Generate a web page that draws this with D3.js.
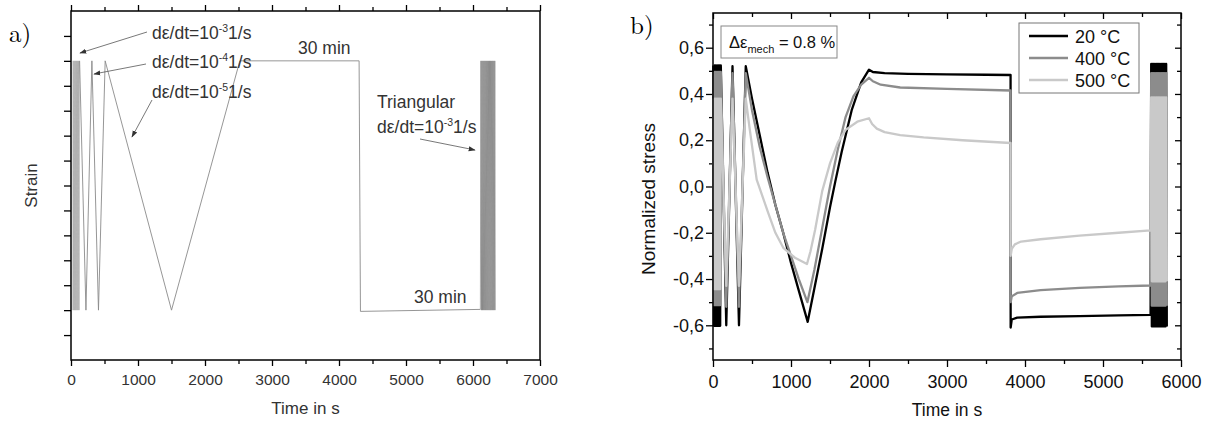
<!DOCTYPE html>
<html><head><meta charset="utf-8">
<script src="https://cdn.jsdelivr.net/npm/d3@7"></script>
<style>
body{margin:0;background:#fff}
svg{display:block}
</style>
</head><body>
<svg id="c" width="1213" height="423"></svg>
<script>
// ================= DATA =================
// Panel a: strain program
const aTickX = [0, 1000, 2000, 3000, 4000, 5000, 6000, 7000];
const aMinorX = [500, 1500, 2500, 3500, 4500, 5500, 6500];
const aTickY = [-0.6, -0.5, -0.4, -0.3, -0.2, -0.1, 0, 0.1, 0.2, 0.3, 0.4, 0.5, 0.6];
const aStrainLevels = [-0.5, 0.5];               // min / max strain
const aBlock1Time = [24, 32, 40, 48, 56, 64, 72, 80, 88, 96, 104, 112, 120, 128];
const aPathTime = [223, 312, 410, 510, 1500, 2520, 4300, 4320, 6110];
const aPathStrain = [-0.5, 0.5, -0.5, 0.5, -0.5, 0.5, 0.5, -0.505, -0.497];
const aBlock2Time = [6118, 6126, 6134, 6142, 6150, 6158, 6166, 6174, 6182, 6190, 6198, 6206, 6214, 6222,
                     6230, 6238, 6246, 6254, 6262, 6270, 6278, 6286, 6294, 6302, 6310, 6318, 6326, 6334];

// Panel b: normalized stress
const bTickX = [0, 1000, 2000, 3000, 4000, 5000, 6000];
const bMinorX = [500, 1500, 2500, 3500, 4500, 5500];
const bTickY = [-0.6, -0.4, -0.2, 0, 0.2, 0.4, 0.6];
const bMinorY = [-0.7, -0.5, -0.3, -0.1, 0.1, 0.3, 0.5, 0.7];
const temps = ["20 °C", "400 °C", "500 °C"];
const tempColors = ["#000000", "#8c8c8c", "#c9c9c9"];

const bBlock1Time = [4, 12, 20, 28, 36, 44, 52, 60, 68, 76, 84, 92, 100];
const bSpikeTime = [170, 250, 333, 420];
const bBlock2Time = [5618, 5626, 5634, 5642, 5650, 5658, 5666, 5674, 5682, 5690, 5698, 5706, 5714,
                     5722, 5730, 5738, 5746, 5754, 5762, 5770, 5778, 5786, 5794, 5802, 5810, 5818];
const block1Max = [0.523, 0.495, 0.38];
const block1Min = [-0.602, -0.513, -0.444];
const spikeMax = [0.52, 0.49, 0.38];
const spikeMin = [-0.60, -0.52, -0.43];
const block2Max = [0.53, 0.49, 0.385];
const block2Min = [-0.605, -0.515, -0.41];

const t20 = [500, 600, 700, 800, 900, 1000, 1100, 1214, 1300, 1400, 1500, 1567, 1650, 1778, 1900, 2000,
             2050, 2200, 2500, 3000, 3500, 3815, 3816, 3830, 3900, 4200, 4700, 5200, 5610];
const s20 = [0.38, 0.22, 0.06, -0.08, -0.2, -0.33, -0.45, -0.585, -0.44, -0.27, -0.09, 0.02, 0.15, 0.33, 0.45, 0.505,
             0.495, 0.49, 0.487, 0.485, 0.483, 0.482, -0.61, -0.575, -0.567, -0.563, -0.56, -0.557, -0.555];
const t400 = [500, 600, 700, 800, 900, 1000, 1100, 1210, 1300, 1400, 1500, 1600, 1700, 1800, 1900, 2000,
              2050, 2150, 2400, 3000, 3815, 3816, 3830, 3900, 4200, 4700, 5200, 5610];
const s400 = [0.33, 0.17, 0.04, -0.08, -0.2, -0.3, -0.4, -0.5, -0.36, -0.18, 0.0, 0.16, 0.3, 0.39, 0.44, 0.47,
              0.455, 0.44, 0.428, 0.422, 0.415, -0.50, -0.475, -0.46, -0.448, -0.438, -0.432, -0.428];
const t500 = [470, 560, 709, 800, 901, 1051, 1205, 1250, 1310, 1400, 1500, 1600, 1700, 1850, 2000,
              2040, 2100, 2200, 2400, 2700, 3200, 3815, 3816, 3830, 3870, 3950, 4200, 4700, 5200, 5610];
const s500 = [0.25, 0.03, -0.115, -0.2, -0.265, -0.308, -0.335, -0.28, -0.186, -0.02, 0.1, 0.19, 0.245, 0.28, 0.295,
              0.27, 0.25, 0.235, 0.222, 0.212, 0.2, 0.188, -0.30, -0.27, -0.25, -0.238, -0.228, -0.212, -0.2, -0.19];
const seriesT = [t20, t400, t500];
const seriesS = [s20, s400, s500];

// ================= DRAW =================
const SANS = "'Liberation Sans', Arial, Helvetica, sans-serif";
const SERIF = "'Latin Modern Roman','DejaVu Serif','Liberation Serif', serif";
const svg = d3.select("#c");
const defs = svg.append("defs");
defs.append("marker").attr("id", "arr").attr("viewBox", "0 0 10 10").attr("refX", 9).attr("refY", 5)
  .attr("markerWidth", 7).attr("markerHeight", 7).attr("orient", "auto-start-reverse")
  .attr("markerUnits", "userSpaceOnUse")
  .append("path").attr("d", "M0,1.5 L10,5 L0,8.5 z").attr("fill", "#333");

function styleAxis(g, size, color) {
  g.select(".domain").remove();
  g.selectAll("line").attr("stroke", "#000").attr("stroke-width", 1.3);
  g.selectAll("text").attr("font-family", SANS).attr("font-size", size).attr("fill", color);
}

// ---------- Panel a ----------
const xa = d3.scaleLinear().domain([0, 7000]).range([71, 540]);
const ya = d3.scaleLinear().domain([-0.7, 0.7]).range([360, 11]);
const pa = svg.append("g");

pa.append("g").attr("transform", `translate(0,${ya(-0.7)})`)
  .call(d3.axisBottom(xa).tickValues(aTickX).tickFormat(d3.format("d")).tickSize(6).tickPadding(8))
  .call(g => styleAxis(g, 15.5, "#333"));
pa.append("g").attr("transform", `translate(0,${ya(-0.7)})`)
  .call(d3.axisBottom(xa).tickValues(aMinorX).tickFormat("").tickSize(4))
  .call(g => styleAxis(g, 15.5, "#333"));
pa.append("g").attr("transform", `translate(0,${ya(0.7)})`)
  .call(d3.axisTop(xa).tickValues(aTickX).tickFormat("").tickSize(6))
  .call(g => styleAxis(g, 15.5, "#333"));
pa.append("g").attr("transform", `translate(0,${ya(0.7)})`)
  .call(d3.axisTop(xa).tickValues(aMinorX).tickFormat("").tickSize(4))
  .call(g => styleAxis(g, 15.5, "#333"));
pa.append("g").attr("transform", `translate(${xa(0)},0)`)
  .call(d3.axisLeft(ya).tickValues(aTickY).tickFormat("").tickSize(7))
  .call(g => styleAxis(g, 15.5, "#333"));
pa.append("rect").attr("x", xa(0)).attr("y", ya(0.7)).attr("width", xa(7000) - xa(0)).attr("height", ya(-0.7) - ya(0.7))
  .attr("fill", "none").attr("stroke", "#000").attr("stroke-width", 1.5);

// strain data
const aBlock1 = aBlock1Time.map((t, i) => [t, aStrainLevels[i % 2]]);
const aMain = aPathTime.map((t, i) => [t, aPathStrain[i]]);
const aBlock2 = aBlock2Time.map((t, i) => [t, aStrainLevels[(i + 1) % 2]]);
const lineA = d3.line().x(d => xa(d[0])).y(d => ya(d[1]));
pa.append("path").attr("d", lineA(aBlock1)).attr("fill", "none")
  .attr("stroke", "#888").attr("stroke-width", 0.45);
pa.append("path").attr("d", lineA([aBlock1[aBlock1.length - 1]].concat(aMain))).attr("fill", "none")
  .attr("stroke", "#8a8a8a").attr("stroke-width", 0.9);
pa.append("path").attr("d", lineA([aMain[aMain.length - 1]].concat(aBlock2))).attr("fill", "none")
  .attr("stroke", "#555").attr("stroke-width", 0.45);

// annotations a
const AF = 17.5;
function rateLabel(g, x, y, exp) {
  const t = g.append("text").attr("x", x).attr("y", y).attr("font-family", SANS)
    .attr("font-size", AF).attr("fill", "#333");
  t.append("tspan").text("dε/dt=10");
  t.append("tspan").attr("dy", -7).attr("font-size", AF * 0.6).text(exp);
  t.append("tspan").attr("dy", 7).text("1/s");
}
rateLabel(pa, 152, 39, "-3");
rateLabel(pa, 152, 68, "-4");
rateLabel(pa, 152, 98, "-5");
const arrows = [[147, 32, 80, 53], [146, 64, 94, 74], [152, 100, 132, 137], [420, 139, 475, 150]];
arrows.forEach(a => pa.append("line").attr("x1", a[0]).attr("y1", a[1]).attr("x2", a[2]).attr("y2", a[3])
  .attr("stroke", "#555").attr("stroke-width", 0.8).attr("marker-end", "url(#arr)"));
pa.append("text").attr("x", 298).attr("y", 54).attr("font-family", SANS).attr("font-size", AF)
  .attr("fill", "#333").text("30 min");
pa.append("text").attr("x", 414).attr("y", 303).attr("font-family", SANS).attr("font-size", AF)
  .attr("fill", "#333").text("30 min");
pa.append("text").attr("x", 377).attr("y", 108).attr("font-family", SANS).attr("font-size", AF)
  .attr("fill", "#333").text("Triangular");
rateLabel(pa, 377, 133, "-3");

pa.append("text").attr("transform", `translate(37,${(ya(0.7) + ya(-0.7)) / 2}) rotate(-90)`)
  .attr("text-anchor", "middle").attr("font-family", SANS).attr("font-size", 17).attr("fill", "#333").text("Strain");
pa.append("text").attr("x", (xa(0) + xa(7000)) / 2).attr("y", 414).attr("text-anchor", "middle")
  .attr("font-family", SANS).attr("font-size", 17).attr("fill", "#333").text("Time in s");
pa.append("text").attr("x", 9).attr("y", 42).attr("font-family", SERIF).attr("font-size", 25).text("a)");

// ---------- Panel b ----------
const xb = d3.scaleLinear().domain([0, 6000]).range([713, 1181]);
const yb = d3.scaleLinear().domain([-0.75, 0.75]).range([360, 13]);
const pb = svg.append("g");
const fmtComma = d => (d < 0 ? "-" : "") + Math.abs(d).toFixed(1).replace(".", ",");

pb.append("g").attr("transform", `translate(0,${yb(-0.75)})`)
  .call(d3.axisBottom(xb).tickValues(bTickX).tickFormat(d3.format("d")).tickSize(7).tickPadding(8))
  .call(g => styleAxis(g, 18, "#111"));
pb.append("g").attr("transform", `translate(0,${yb(-0.75)})`)
  .call(d3.axisBottom(xb).tickValues(bMinorX).tickFormat("").tickSize(4))
  .call(g => styleAxis(g, 18, "#111"));
pb.append("g").attr("transform", `translate(0,${yb(0.75)})`)
  .call(d3.axisTop(xb).tickValues(bTickX).tickFormat("").tickSize(-6))
  .call(g => styleAxis(g, 18, "#111"));
pb.append("g").attr("transform", `translate(0,${yb(0.75)})`)
  .call(d3.axisTop(xb).tickValues(bMinorX).tickFormat("").tickSize(-4))
  .call(g => styleAxis(g, 18, "#111"));
pb.append("g").attr("transform", `translate(${xb(0)},0)`)
  .call(d3.axisLeft(yb).tickValues(bTickY).tickFormat(fmtComma).tickSize(7).tickPadding(2))
  .call(g => styleAxis(g, 18, "#111"));
pb.append("g").attr("transform", `translate(${xb(0)},0)`)
  .call(d3.axisLeft(yb).tickValues(bMinorY).tickFormat("").tickSize(4))
  .call(g => styleAxis(g, 18, "#111"));
pb.append("g").attr("transform", `translate(${xb(6000)},0)`)
  .call(d3.axisRight(yb).tickValues(bTickY).tickFormat("").tickSize(-6))
  .call(g => styleAxis(g, 18, "#111"));
pb.append("g").attr("transform", `translate(${xb(6000)},0)`)
  .call(d3.axisRight(yb).tickValues(bMinorY).tickFormat("").tickSize(-4))
  .call(g => styleAxis(g, 18, "#111"));

// series
const lineB = d3.line().x(d => xb(d[0])).y(d => yb(d[1]));
const plot = pb.append("g");
temps.forEach((name, k) => {
  const pts = [];
  bBlock1Time.forEach((t, i) => pts.push([t, i % 2 === 0 ? block1Max[k] : block1Min[k]]));
  bSpikeTime.forEach((t, i) => pts.push([t, i % 2 === 0 ? spikeMin[k] : spikeMax[k]]));
  seriesT[k].forEach((t, i) => pts.push([t, seriesS[k][i]]));
  bBlock2Time.forEach((t, i) => pts.push([t, i % 2 === 0 ? block2Max[k] : block2Min[k]]));
  plot.append("path").attr("d", lineB(pts)).attr("fill", "none").attr("stroke", tempColors[k])
    .attr("stroke-width", 2.3).attr("stroke-linejoin", "round");
});

pb.append("rect").attr("x", xb(0)).attr("y", yb(0.75)).attr("width", xb(6000) - xb(0)).attr("height", yb(-0.75) - yb(0.75))
  .attr("fill", "none").attr("stroke", "#000").attr("stroke-width", 1.5);

// legend
const lg = pb.append("g");
lg.append("rect").attr("x", 1019).attr("y", 23).attr("width", 120).attr("height", 70)
  .attr("fill", "#fff").attr("stroke", "#777").attr("stroke-width", 1);
temps.forEach((name, k) => {
  const y = 36 + k * 22;
  lg.append("line").attr("x1", 1029).attr("x2", 1068).attr("y1", y).attr("y2", y)
    .attr("stroke", tempColors[k]).attr("stroke-width", 2.5);
  lg.append("text").attr("x", 1075).attr("y", y + 6.5).attr("font-family", SANS).attr("font-size", 18)
    .attr("fill", "#111").text(name);
});

// delta eps box
pb.append("rect").attr("x", 721).attr("y", 26).attr("width", 116).attr("height", 32)
  .attr("fill", "#fff").attr("stroke", "#888").attr("stroke-width", 1);
const de = pb.append("text").attr("x", 729).attr("y", 48).attr("font-family", SANS).attr("font-size", 16.5).attr("fill", "#111");
de.append("tspan").text("Δε");
de.append("tspan").attr("dy", 5).attr("font-size", 11).text("mech");
de.append("tspan").attr("dy", -5).text(" = 0.8 %");

pb.append("text").attr("transform", `translate(655,199) rotate(-90)`)
  .attr("text-anchor", "middle").attr("font-family", SANS).attr("font-size", 19).attr("fill", "#111")
  .text("Normalized stress");
pb.append("text").attr("x", (xb(0) + xb(6000)) / 2).attr("y", 416).attr("text-anchor", "middle")
  .attr("font-family", SANS).attr("font-size", 17.5).attr("fill", "#111").text("Time in s");
pb.append("text").attr("x", 630).attr("y", 34).attr("font-family", SERIF).attr("font-size", 25).text("b)");
</script>
</body></html>
